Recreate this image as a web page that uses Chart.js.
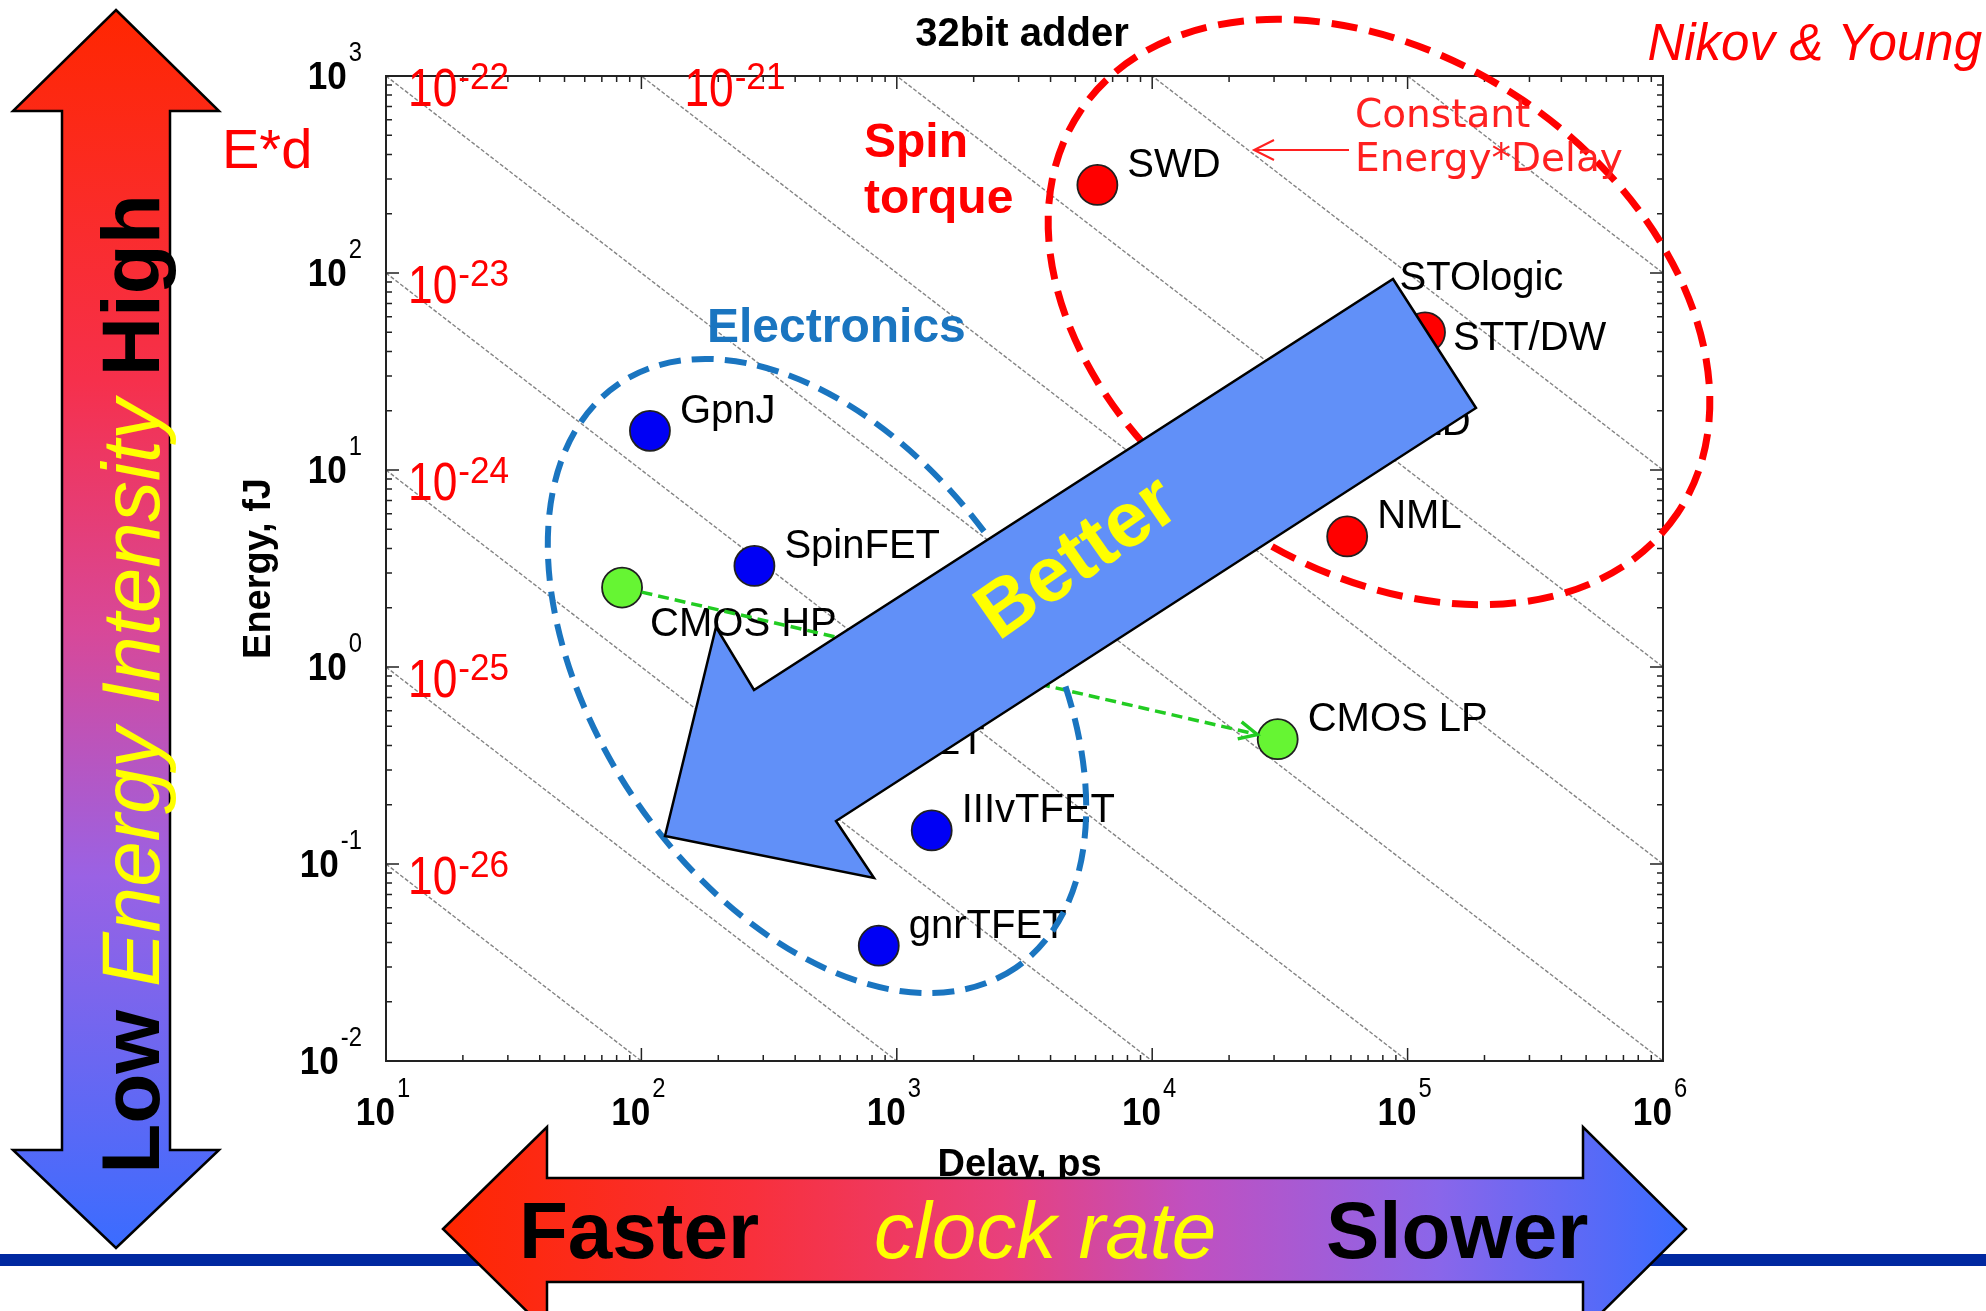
<!DOCTYPE html>
<html>
<head>
<meta charset="utf-8">
<script src="https://cdn.jsdelivr.net/npm/chart.js@4.4.0/dist/chart.umd.min.js"></script>
<style>
    html, body { margin: 0; padding: 0; background: #fff; }
</style>
</head>
<body>
<canvas id="ChEnergyDelay" width="1986" height="1311"></canvas>
<script>
// axis ranges (ps, fJ)
const delayMin = 10, delayMax = 1e6;
const energyMin = 0.01, energyMax = 1000;
const delayTicks = [1e1, 1e2, 1e3, 1e4, 1e5, 1e6];
const energyTicks = [1e-2, 1e-1, 1e0, 1e1, 1e2, 1e3];

// CMOS
const cmosNames = ["CMOS HP", "CMOS LP"];
const cmosDelay = [84, 31000];
const cmosEnergy = [2.53, 0.43];

// beyond-CMOS electronics
const elecNames = ["GpnJ", "SpinFET", "HetJTFET", "IIIvTFET", "gnrTFET"];
const elecDelay = [108, 277, 326, 1370, 850];
const elecEnergy = [15.8, 3.26, 0.33, 0.148, 0.0385];

// spintronics
const spinNames = ["SWD", "STOlogic", "STT/DW", "ASLD", "NML"];
const spinDelay = [6100, 62000, 117000, 52500, 58000];
const spinEnergy = [280, 50, 50, 13.7, 4.6];

// constant energy*delay lines, fJ*ps, and the J*s exponents written next to them
const edProducts = [1e0, 1e1, 1e2, 1e3, 1e4, 1e5, 1e6, 1e7, 1e8];
const edLabelExp = [-26, -25, -24, -23, -22, -21];


const FONT = '"Liberation Sans", Arial, sans-serif';

const labelOffsets = {
    "CMOS HP": [28, 48],
    "STT/DW": [28, 18],
    "STOlogic": [45, -42]
};

const toPoints = (xs, ys) => xs.map((x, i) => ({ x: x, y: ys[i] }));

const drawText = (ctx, text, x, y, font, color, sx, align) => {
    ctx.save();
    ctx.font = font;
    ctx.fillStyle = color;
    ctx.textAlign = align || 'left';
    ctx.textBaseline = 'alphabetic';
    ctx.translate(x, y);
    ctx.scale(sx || 1, 1);
    ctx.fillText(text, 0, 0);
    ctx.restore();
};

const drawPow = (ctx, exp, x, y, o) => {
    ctx.save();
    ctx.font = o.main;
    const w1 = ctx.measureText('10').width * o.sx;
    ctx.font = o.sup;
    const w2 = ctx.measureText(String(exp)).width * o.supSx;
    ctx.restore();
    let x0 = x;
    if (o.align === 'right') x0 = x - w1 - o.gap - w2;
    if (o.align === 'center') x0 = x - (w1 + o.gap + w2) / 2;
    drawText(ctx, '10', x0, y, o.main, o.color, o.sx);
    drawText(ctx, String(exp), x0 + w1 + o.gap, y - o.raise, o.sup, o.color, o.supSx);
};

const polygon = (ctx, pts, fill, stroke, lw) => {
    ctx.beginPath();
    pts.forEach((p, i) => i ? ctx.lineTo(p[0], p[1]) : ctx.moveTo(p[0], p[1]));
    ctx.closePath();
    ctx.fillStyle = fill;
    ctx.fill();
    ctx.lineWidth = lw;
    ctx.strokeStyle = stroke;
    ctx.lineJoin = 'miter';
    ctx.stroke();
};

const drawEllipse = (ctx, e) => {
    ctx.save();
    ctx.beginPath();
    ctx.ellipse(e.cx, e.cy, e.a, e.b, e.rot * Math.PI / 180, 0, 2 * Math.PI);
    ctx.setLineDash(e.dash);
    ctx.lineWidth = e.w;
    ctx.strokeStyle = e.color;
    ctx.stroke();
    ctx.restore();
};

const decorPlugin = {
    id: 'decor',
    afterDatasetsDraw(chart) {
        const ctx = chart.ctx;
        chart.data.datasets.forEach((ds, i) => {
            if (!ds.names) return;
            chart.getDatasetMeta(i).data.forEach((pt, j) => {
                const name = ds.names[j];
                const off = labelOffsets[name] || [30, -8];
                drawText(ctx, name, pt.x + off[0], pt.y + off[1], '40px ' + FONT, '#000', 1);
            });
        });
    },
    afterDraw(chart) {
        const ctx = chart.ctx;
        const { left, right, top, bottom } = chart.chartArea;
        const xs = chart.scales.x, ys = chart.scales.y;

        // frame + inward log ticks
        ctx.save();
        ctx.strokeStyle = '#222';
        ctx.lineWidth = 2;
        ctx.strokeRect(left, top, right - left, bottom - top);
        ctx.lineWidth = 1.5;
        ctx.beginPath();
        delayTicks.forEach((d, k) => {
            for (let m = 1; m <= (k < delayTicks.length - 1 ? 9 : 1); m++) {
                const x = xs.getPixelForValue(d * m), len = m === 1 ? 13 : 6;
                ctx.moveTo(x, bottom); ctx.lineTo(x, bottom - len);
                ctx.moveTo(x, top); ctx.lineTo(x, top + len);
            }
        });
        energyTicks.forEach((e, k) => {
            for (let m = 1; m <= (k < energyTicks.length - 1 ? 9 : 1); m++) {
                const y = ys.getPixelForValue(e * m), len = m === 1 ? 13 : 6;
                ctx.moveTo(left, y); ctx.lineTo(left + len, y);
                ctx.moveTo(right, y); ctx.lineTo(right - len, y);
            }
        });
        ctx.stroke();
        ctx.restore();

        // tick labels
        const tickFont = { main: 'bold 39px ' + FONT, sup: '28px ' + FONT, sx: 0.9, supSx: 0.85, raise: 28, gap: 2, color: '#000' };
        energyTicks.forEach((e) => {
            drawPow(ctx, Math.round(Math.log10(e)), left - 24, ys.getPixelForValue(e) + 13, Object.assign({ align: 'right' }, tickFont));
        });
        delayTicks.forEach((d) => {
            drawPow(ctx, Math.round(Math.log10(d)), xs.getPixelForValue(d) - 3, bottom + 64, Object.assign({ align: 'center' }, tickFont));
        });

        // axis titles + title
        ctx.save();
        ctx.translate(270, (top + bottom) / 2);
        ctx.rotate(-Math.PI / 2);
        drawText(ctx, 'Energy, fJ', 0, 0, 'bold 38px ' + FONT, '#000', 1, 'center');
        ctx.restore();
        drawText(ctx, 'Delay, ps', (left + right) / 2 - 5, 1176, 'bold 38px ' + FONT, '#000', 1, 'center');
        drawText(ctx, '32bit adder', 1022, 46, 'bold 40px ' + FONT, '#000', 1, 'center');

        // E*d labels next to the iso-lines
        const edFont = { main: '54px ' + FONT, sup: '37px ' + FONT, sx: 0.82, supSx: 0.95, raise: 17, gap: 1, color: '#ff0000', align: 'left' };
        edLabelExp.forEach((ex, i) => {
            const p = edProducts[i];
            let ax, ay, dx;
            if (p / delayMin <= energyMax) {
                ax = xs.getPixelForValue(delayMin); ay = ys.getPixelForValue(p / delayMin); dx = 22;
            } else {
                ax = xs.getPixelForValue(p / energyMax); ay = ys.getPixelForValue(energyMax); dx = 43;
            }
            drawPow(ctx, ex, ax + dx, ay + 30, edFont);
        });
        drawText(ctx, 'E*d', 222, 168, '56px ' + FONT, '#ff0000', 1);

        // green CMOS HP -> LP arrow
        const cm = chart.getDatasetMeta(chart.data.datasets.findIndex(d => d.label === 'CMOS')).data;
        const p0 = cm[0], p1 = cm[1];
        const ang = Math.atan2(p1.y - p0.y, p1.x - p0.x);
        const sx0 = p0.x + 20 * Math.cos(ang), sy0 = p0.y + 20 * Math.sin(ang);
        const ex1 = p1.x - 21 * Math.cos(ang), ey1 = p1.y - 21 * Math.sin(ang);
        ctx.save();
        ctx.strokeStyle = '#22cc22';
        ctx.lineWidth = 3.5;
        ctx.setLineDash([11, 6]);
        ctx.beginPath(); ctx.moveTo(sx0, sy0); ctx.lineTo(ex1, ey1); ctx.stroke();
        ctx.setLineDash([]);
        ctx.beginPath();
        ctx.moveTo(ex1 - 20 * Math.cos(ang - 0.45), ey1 - 20 * Math.sin(ang - 0.45));
        ctx.lineTo(ex1, ey1);
        ctx.lineTo(ex1 - 20 * Math.cos(ang + 0.45), ey1 - 20 * Math.sin(ang + 0.45));
        ctx.stroke();
        ctx.restore();

        // group ellipses
        drawEllipse(ctx, { cx: 817, cy: 676, a: 353, b: 220, rot: 55.8, dash: [22, 11], w: 6, color: '#1a75c0' });
        drawEllipse(ctx, { cx: 1379, cy: 312, a: 360, b: 256, rot: 34.1, dash: [26, 12], w: 7, color: '#ff0000' });

        drawText(ctx, 'Spin', 864, 157, 'bold 48px ' + FONT, '#ff0000', 1);
        drawText(ctx, 'torque', 864, 213, 'bold 48px ' + FONT, '#ff0000', 1);
        drawText(ctx, 'Electronics', 707, 342, 'bold 48px ' + FONT, '#1a75c0', 1);
        drawText(ctx, 'Constant', 1355, 127, '39px "DejaVu Sans", sans-serif', '#ff2020', 1);
        drawText(ctx, 'Energy*Delay', 1355, 171, '39px "DejaVu Sans", sans-serif', '#ff2020', 1);
        ctx.save();
        ctx.strokeStyle = '#ff2020';
        ctx.lineWidth = 2;
        ctx.beginPath();
        ctx.moveTo(1349, 150); ctx.lineTo(1254, 150);
        ctx.moveTo(1274, 140); ctx.lineTo(1254, 150); ctx.lineTo(1274, 160);
        ctx.stroke();
        ctx.restore();

        // "Better" arrow
        polygon(ctx, [[1393, 279], [1476, 408], [836, 821], [874, 878], [665, 836], [716, 627], [754, 690]], '#6190f8', '#000', 2.5);
        ctx.save();
        ctx.translate(1075, 555);
        ctx.rotate(-35 * Math.PI / 180);
        drawText(ctx, 'Better', 0, 27, 'bold 78px ' + FONT, '#ffff00', 1, 'center');
        ctx.restore();

        // dark blue rule
        ctx.fillStyle = '#0028a0';
        ctx.fillRect(0, 1254, chart.width, 12);

        // vertical energy arrow
        const gv = ctx.createLinearGradient(0, 10, 0, 1248);
        gv.addColorStop(0, '#ff2600');
        gv.addColorStop(0.3, '#f6304c');
        gv.addColorStop(0.5, '#d84898');
        gv.addColorStop(0.7, '#9a62e4');
        gv.addColorStop(1, '#3a6cff');
        polygon(ctx, [[116, 10], [219, 111], [170, 111], [170, 1150], [219, 1150], [116, 1248], [13, 1150], [62, 1150], [62, 111], [13, 111]], gv, '#000', 2.5);
        ctx.save();
        ctx.translate(159, 684);
        ctx.rotate(-Math.PI / 2);
        const parts = [['Low ', 'bold 82px ' + FONT, '#000'], ['Energy Intensity ', 'italic 82px ' + FONT, '#ffff00'], ['High', 'bold 82px ' + FONT, '#000']];
        let tot = 0;
        parts.forEach(p => { ctx.font = p[1]; p.push(ctx.measureText(p[0]).width); tot += p[3]; });
        let cx = -tot / 2;
        parts.forEach(p => { drawText(ctx, p[0], cx, 0, p[1], p[2], 1); cx += p[3]; });
        ctx.restore();

        // horizontal clock-rate arrow
        const gh = ctx.createLinearGradient(443, 0, 1686, 0);
        gh.addColorStop(0, '#ff2600');
        gh.addColorStop(0.25, '#f8303c');
        gh.addColorStop(0.45, '#e8407c');
        gh.addColorStop(0.6, '#c050c0');
        gh.addColorStop(0.8, '#8a66ea');
        gh.addColorStop(1, '#3a6cff');
        polygon(ctx, [[443, 1229], [547, 1127], [547, 1178], [1583, 1178], [1583, 1127], [1686, 1229], [1583, 1331], [1583, 1282], [547, 1282], [547, 1331]], gh, '#000', 2.5);
        drawText(ctx, 'Faster', 519, 1258, 'bold 80px ' + FONT, '#000', 1);
        drawText(ctx, 'clock rate', 874, 1258, 'italic 80px ' + FONT, '#ffff00', 1);
        drawText(ctx, 'Slower', 1326, 1258, 'bold 80px ' + FONT, '#000', 1);

        drawText(ctx, 'Nikov & Young', 1982, 60, 'italic 51px ' + FONT, '#ff0000', 1, 'right');
    }
};


const pointStyle = (color) => ({
    pointRadius: 20,
    pointHoverRadius: 20,
    backgroundColor: color,
    borderColor: '#202020',
    borderWidth: 1.8,
    showLine: false,
    order: 0
});

const isoLines = edProducts.map((p) => ({
    label: 'ed' + p,
    data: [{ x: delayMin, y: p / delayMin }, { x: delayMax, y: p / delayMax }],
    showLine: true,
    borderColor: 'rgba(80,80,80,0.7)',
    borderWidth: 1.4,
    borderDash: [4, 2],
    pointRadius: 0,
    fill: false,
    order: 10
}));

var ChEnergyDelay = new Chart(document.getElementById('ChEnergyDelay'), {
    type: 'scatter',
    data: {
        datasets: isoLines.concat([
            Object.assign({ label: 'CMOS', names: cmosNames, data: toPoints(cmosDelay, cmosEnergy) }, pointStyle('#66f533')),
            Object.assign({ label: 'Electronics', names: elecNames, data: toPoints(elecDelay, elecEnergy) }, pointStyle('#0000f5')),
            Object.assign({ label: 'Spin', names: spinNames, data: toPoints(spinDelay, spinEnergy) }, pointStyle('#ff0000'))
        ])
    },
    options: {
        responsive: false,
        animation: false,
        devicePixelRatio: 1,
        layout: { padding: { left: 386, right: 323, top: 76, bottom: 250 } },
        scales: {
            x: { type: 'logarithmic', min: delayMin, max: delayMax, display: false },
            y: { type: 'logarithmic', min: energyMin, max: energyMax, display: false }
        },
        plugins: {
            legend: { display: false },
            tooltip: { enabled: false }
        }
    },
    plugins: [decorPlugin]
});
</script>
</body>
</html>
